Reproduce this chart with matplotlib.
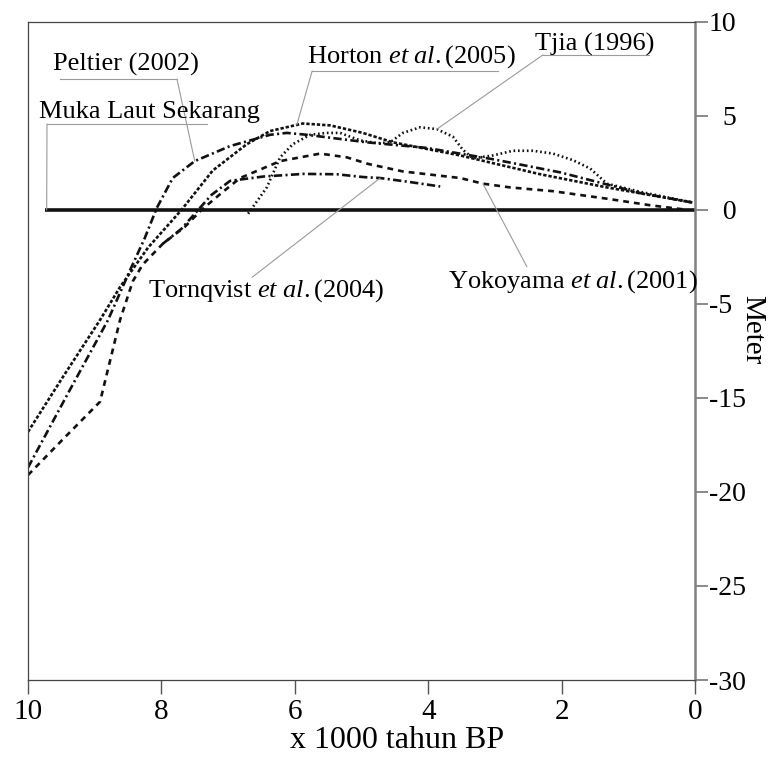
import numpy as np
import matplotlib
matplotlib.use('Agg')
import matplotlib.pyplot as plt

# font serif mirip Times
plt.rcParams['font.family'] = 'Liberation Serif'
plt.rcParams['mathtext.fontset'] = 'custom'
plt.rcParams['mathtext.rm'] = 'Liberation Serif'
plt.rcParams['mathtext.it'] = 'Liberation Serif:italic'
plt.rcParams['lines.scale_dashes'] = False

# ---- data (x 1000 tahun BP, meter) ----
muka_x = [9.75, 0.0]
muka_y = [0.0, 0.0]

peltier_x = [10, 9.4, 8.8, 8.47, 8.25, 8.07, 7.83, 7.5, 6.97, 6.37, 6.12, 5.82, 5.37, 4.92, 4.02, 3.03, 2.02, 0.82, 0.04]
peltier_y = [-18.7, -14.5, -6.7, -3.2, -1.5, 0.1, 1.7, 2.6, 3.4, 4.0, 4.1, 4.0, 3.8, 3.6, 3.3, 2.7, 2.0, 0.9, 0.4]

horton_x = [10, 9.48, 8.92, 8.62, 8.2, 7.7, 7.23, 6.72, 6.37, 5.88, 5.47, 4.98, 4.53, 3.52, 2.32, 1.32, 0.04]
horton_y = [-16.8, -12.8, -6.7, -4.1, -2.0, 0.0, 2.1, 3.5, 4.2, 4.6, 4.5, 4.1, 3.6, 2.9, 1.9, 1.2, 0.4]

tjia_x = [6.7, 6.42, 6.22, 6.03, 5.77, 5.52, 5.32, 5.02, 4.75, 4.57, 4.38, 4.12, 3.87, 3.63, 3.48, 3.33,
          3.03, 2.73, 2.43, 2.13, 1.83, 1.57, 1.32, 0.8, 0.04]
tjia_y = [-0.2, 1.2, 2.8, 3.5, 4.0, 4.1, 4.1, 3.7, 3.55, 3.6, 4.1, 4.4, 4.3, 3.9, 3.2, 2.75,
          2.9, 3.15, 3.15, 3.0, 2.65, 2.2, 1.4, 0.95, 0.4]

yoko_x = [10, 9.45, 8.92, 8.62, 8.43, 8.28, 7.98, 7.65, 7.4, 7.1, 6.82, 6.22, 5.62, 5.22, 4.9, 4.38,
          3.52, 3.18, 2.77, 2.13, 1.32, 0.67, 0.1]
yoko_y = [-19.1, -17.1, -15.2, -6.7, -3.8, -2.9, -1.8, -0.9, 0.0, 0.9, 1.7, 2.6, 3.0, 2.8, 2.45, 2.05,
          1.7, 1.4, 1.2, 1.0, 0.6, 0.25, 0.0]

torn_x = [7.98, 7.7, 7.45, 7.25, 6.97, 6.47, 5.87, 5.37, 4.97, 4.72, 4.3, 3.82]
torn_y = [-1.8, -1.0, 0.0, 0.8, 1.55, 1.78, 1.92, 1.9, 1.75, 1.7, 1.5, 1.25]

xtick_vals = [10, 8, 6, 4, 2, 0]
ytick_vals = [10, 5, 0, -5, -15, -20, -25, -30]


# sumbu y tidak linear: jarak -5 ke -15 sama dengan satu langkah
def fwd(y):
    y = np.asarray(y, float)
    return np.where(y >= -5, y, np.where(y >= -15, -5 + (y + 5) / 2.0, y + 5))


def inv(t):
    t = np.asarray(t, float)
    return np.where(t >= -5, t, np.where(t >= -10, -5 + 2.0 * (t + 5), t - 5))


def pada(xs, ys, x0):
    # titik di kurva untuk garis penunjuk
    return x0, float(np.interp(x0, xs[::-1], ys[::-1]))


fig = plt.figure(figsize=(7.69, 7.58), dpi=100)
ax = fig.add_axes([0.0364, 0.1029, 0.8674, 0.8681])
ax.set_yscale('function', functions=(fwd, inv))

hitam = '#111111'
lw = 1.9
ax.plot(muka_x, muka_y, color=hitam, lw=2.6, solid_capstyle='butt')
ax.plot(peltier_x, peltier_y, color=hitam, lw=lw, linestyle=(0, (6.0, 2.4, 1.5, 2.4)))
ax.plot(horton_x, horton_y, color=hitam, lw=lw, linestyle=(0, (2.4, 1.4)))
ax.plot(tjia_x, tjia_y, color=hitam, lw=lw, linestyle=(0, (1.2, 2.0)))
ax.plot(yoko_x, yoko_y, color=hitam, lw=lw, linestyle=(0, (4.2, 3.6)))
ax.plot(torn_x, torn_y, color=hitam, lw=lw, linestyle=(0, (6.0, 2.4, 1.5, 2.4)))

ax.set_xlim(10, 0)
ax.set_ylim(-30, 10)

# sumbu
ax.yaxis.tick_right()
ax.yaxis.set_label_position('right')
ax.set_xticks(xtick_vals)
ax.set_xticklabels([str(v) for v in xtick_vals])
ax.set_yticks(ytick_vals)
ax.set_yticklabels([('\u2007' + str(v)) if 0 <= v < 10 else str(v) for v in ytick_vals])
ax.tick_params(axis='x', direction='out', length=10, width=1, color='#555555', pad=4, labelsize=21)
ax.tick_params(axis='y', direction='out', length=9, width=1.2, color='#777777', pad=1, labelsize=20)
for s in ['left', 'top', 'bottom']:
    ax.spines[s].set_color('#444444')
    ax.spines[s].set_linewidth(0.9)
ax.spines['right'].set_color('#808080')
ax.spines['right'].set_linewidth(1.8)

ax.set_xlabel('x 1000 tahun BP', fontsize=23, va='center')
ax.xaxis.set_label_coords(0.553, -0.092)
ax.set_ylabel('Meter', fontsize=21, rotation=270, va='center')
ax.yaxis.set_label_coords(1.085, 0.532)

# label kurva
abu = '#9a9a9a'
fs = 19


def garis(x0, x1, y0):
    ax.plot([x0, x1], [y0, y0], color=abu, lw=0.8, transform=ax.transAxes, clip_on=False)


def penunjuk(start, titik):
    ax.annotate('', xy=titik, xycoords='data', xytext=start, textcoords='axes fraction',
                arrowprops=dict(arrowstyle='-', color=abu, lw=0.8, shrinkA=0, shrinkB=0))


ax.text(0.0375, 0.9255, 'Peltier (2002)', fontsize=fs, transform=ax.transAxes, va='baseline')
garis(0.048, 0.2234, 0.913)
penunjuk((0.2234, 0.913), pada(peltier_x, peltier_y, 7.5))

ax.text(0.0165, 0.854, 'Muka Laut Sekarang', fontsize=fs, transform=ax.transAxes, va='baseline')
garis(0.0285, 0.268, 0.845)
penunjuk((0.0285, 0.845), pada(muka_x, muka_y, 9.72))

ax.text(0.418, 0.938, r'Horton $\mathit{et\ al.}$(2005)', fontsize=fs, transform=ax.transAxes, va='baseline')
garis(0.426, 0.705, 0.9255)
penunjuk((0.426, 0.9255), pada(horton_x, horton_y, 5.97))

ax.text(0.760, 0.957, 'Tjia (1996)', fontsize=fs, transform=ax.transAxes, va='baseline')
garis(0.772, 0.931, 0.950)
penunjuk((0.772, 0.950), pada(tjia_x, tjia_y, 3.87))

ax.text(0.180, 0.582, r'Tornqvist $\mathit{et\ al.}$(2004)', fontsize=fs, transform=ax.transAxes, va='baseline')
penunjuk((0.336, 0.612), pada(torn_x, torn_y, 4.72))

ax.text(0.630, 0.597, r'Yokoyama $\mathit{et\ al.}$(2001)', fontsize=fs, transform=ax.transAxes, va='baseline')
penunjuk((0.748, 0.628), pada(yoko_x, yoko_y, 3.18))

fig.savefig('out.png', dpi=100)
